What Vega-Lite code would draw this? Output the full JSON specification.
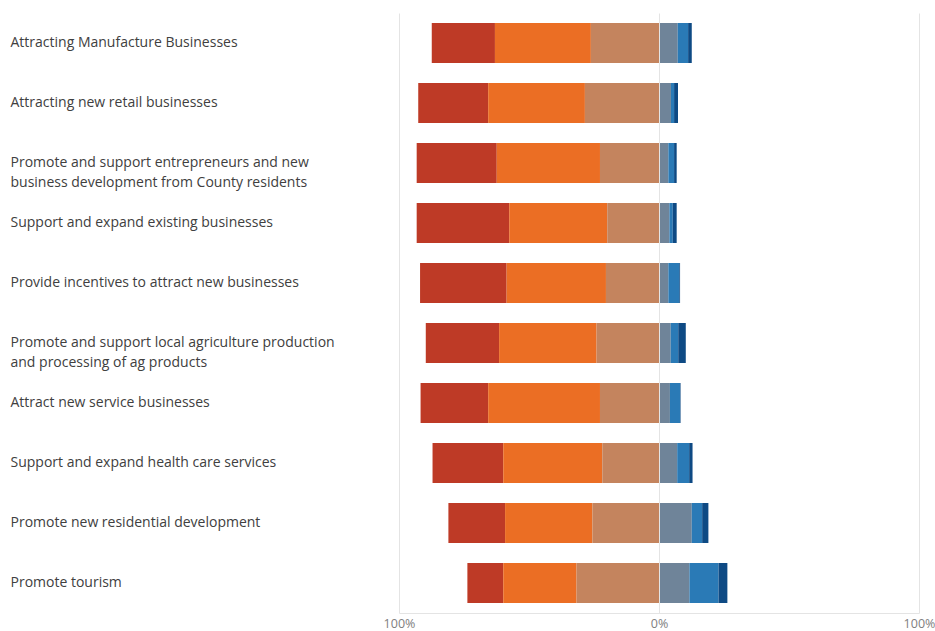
{
  "$schema": "https://vega.github.io/schema/vega-lite/v6.json",
  "width": 520,
  "height": 600,
  "autosize": {"type": "none"},
  "padding": {"left": 399, "top": 13, "right": 16, "bottom": 18},
  "background": "white",
  "config": {"view": {"stroke": null}, "font": "Open Sans"},
  "data": {"values": [
    {"item": "Attracting Manufacture Businesses", "response": "Very high", "pct": -24.3},
    {"item": "Attracting Manufacture Businesses", "response": "High", "pct": -36.9},
    {"item": "Attracting Manufacture Businesses", "response": "Medium", "pct": -26.2},
    {"item": "Attracting Manufacture Businesses", "response": "Low", "pct": 7.2},
    {"item": "Attracting Manufacture Businesses", "response": "Very low", "pct": 4.0},
    {"item": "Attracting Manufacture Businesses", "response": "Not a priority", "pct": 1.4},
    {"item": "Attracting new retail businesses", "response": "Very high", "pct": -26.9},
    {"item": "Attracting new retail businesses", "response": "High", "pct": -37.2},
    {"item": "Attracting new retail businesses", "response": "Medium", "pct": -28.5},
    {"item": "Attracting new retail businesses", "response": "Low", "pct": 4.6},
    {"item": "Attracting new retail businesses", "response": "Very low", "pct": 1.2},
    {"item": "Attracting new retail businesses", "response": "Not a priority", "pct": 1.5},
    {"item": "Promote and support entrepreneurs and new business development from County residents", "response": "Very high", "pct": -30.8},
    {"item": "Promote and support entrepreneurs and new business development from County residents", "response": "High", "pct": -39.7},
    {"item": "Promote and support entrepreneurs and new business development from County residents", "response": "Medium", "pct": -22.7},
    {"item": "Promote and support entrepreneurs and new business development from County residents", "response": "Low", "pct": 3.6},
    {"item": "Promote and support entrepreneurs and new business development from County residents", "response": "Very low", "pct": 2.2},
    {"item": "Promote and support entrepreneurs and new business development from County residents", "response": "Not a priority", "pct": 1.0},
    {"item": "Support and expand existing businesses", "response": "Very high", "pct": -35.6},
    {"item": "Support and expand existing businesses", "response": "High", "pct": -37.7},
    {"item": "Support and expand existing businesses", "response": "Medium", "pct": -19.9},
    {"item": "Support and expand existing businesses", "response": "Low", "pct": 4.0},
    {"item": "Support and expand existing businesses", "response": "Very low", "pct": 1.3},
    {"item": "Support and expand existing businesses", "response": "Not a priority", "pct": 1.5},
    {"item": "Provide incentives to attract new businesses", "response": "Very high", "pct": -33.3},
    {"item": "Provide incentives to attract new businesses", "response": "High", "pct": -38.2},
    {"item": "Provide incentives to attract new businesses", "response": "Medium", "pct": -20.4},
    {"item": "Provide incentives to attract new businesses", "response": "Low", "pct": 3.6},
    {"item": "Provide incentives to attract new businesses", "response": "Very low", "pct": 4.2},
    {"item": "Provide incentives to attract new businesses", "response": "Not a priority", "pct": 0.3},
    {"item": "Promote and support local agriculture production and processing of ag products", "response": "Very high", "pct": -28.2},
    {"item": "Promote and support local agriculture production and processing of ag products", "response": "High", "pct": -37.5},
    {"item": "Promote and support local agriculture production and processing of ag products", "response": "Medium", "pct": -24.0},
    {"item": "Promote and support local agriculture production and processing of ag products", "response": "Low", "pct": 4.5},
    {"item": "Promote and support local agriculture production and processing of ag products", "response": "Very low", "pct": 2.9},
    {"item": "Promote and support local agriculture production and processing of ag products", "response": "Not a priority", "pct": 2.9},
    {"item": "Attract new service businesses", "response": "Very high", "pct": -26.0},
    {"item": "Attract new service businesses", "response": "High", "pct": -43.0},
    {"item": "Attract new service businesses", "response": "Medium", "pct": -22.7},
    {"item": "Attract new service businesses", "response": "Low", "pct": 4.2},
    {"item": "Attract new service businesses", "response": "Very low", "pct": 3.9},
    {"item": "Attract new service businesses", "response": "Not a priority", "pct": 0.2},
    {"item": "Support and expand health care services", "response": "Very high", "pct": -27.2},
    {"item": "Support and expand health care services", "response": "High", "pct": -38.1},
    {"item": "Support and expand health care services", "response": "Medium", "pct": -21.8},
    {"item": "Support and expand health care services", "response": "Low", "pct": 7.0},
    {"item": "Support and expand health care services", "response": "Very low", "pct": 4.6},
    {"item": "Support and expand health care services", "response": "Not a priority", "pct": 1.3},
    {"item": "Promote new residential development", "response": "Very high", "pct": -21.8},
    {"item": "Promote new residential development", "response": "High", "pct": -33.6},
    {"item": "Promote new residential development", "response": "Medium", "pct": -25.6},
    {"item": "Promote new residential development", "response": "Low", "pct": 12.6},
    {"item": "Promote new residential development", "response": "Very low", "pct": 4.0},
    {"item": "Promote new residential development", "response": "Not a priority", "pct": 2.4},
    {"item": "Promote tourism", "response": "Very high", "pct": -13.8},
    {"item": "Promote tourism", "response": "High", "pct": -28.2},
    {"item": "Promote tourism", "response": "Medium", "pct": -31.7},
    {"item": "Promote tourism", "response": "Low", "pct": 11.7},
    {"item": "Promote tourism", "response": "Very low", "pct": 11.2},
    {"item": "Promote tourism", "response": "Not a priority", "pct": 3.4}
  ]},
  "transform": [
    {"calculate": "indexof(['Medium','High','Very high','Low','Very low','Not a priority'], datum.response)", "as": "ord"}
  ],
  "mark": {"type": "bar"},
  "encoding": {
    "y": {
      "field": "item",
      "type": "nominal",
      "sort": null,
      "scale": {"paddingInner": 0.333, "paddingOuter": 0.1667},
      "axis": {
        "title": null,
        "ticks": false,
        "domain": false,
        "grid": false,
        "labelAlign": "left",
        "labelPadding": 389,
        "labelFontSize": 14,
        "labelColor": "#404040",
        "labelLimit": 400,
        "labelLineHeight": 20,
        "labelExpr": "datum.label == 'Promote and support entrepreneurs and new business development from County residents' ? ['Promote and support entrepreneurs and new', 'business development from County residents'] : datum.label == 'Promote and support local agriculture production and processing of ag products' ? ['Promote and support local agriculture production', 'and processing of ag products'] : datum.label"
      }
    },
    "x": {
      "field": "pct",
      "type": "quantitative",
      "stack": "zero",
      "scale": {"domain": [-100, 100]},
      "axis": {
        "title": null,
        "values": [-100, 0, 100],
        "labelExpr": "abs(datum.value) + '%'",
        "labelFlush": false,
        "ticks": false,
        "grid": true,
        "gridColor": "#e4e4e4",
        "domain": true,
        "domainColor": "#e4e4e4",
        "labelColor": "#808080",
        "labelFontSize": 12.5,
        "labelPadding": 4,
        "zindex": 1
      }
    },
    "color": {
      "field": "response",
      "type": "nominal",
      "scale": {
        "domain": ["Very high", "High", "Medium", "Low", "Very low", "Not a priority"],
        "range": ["#BE3A26", "#EB6E24", "#C4845E", "#6F8499", "#2A7AB6", "#0E4A84"]
      },
      "legend": null
    },
    "order": {"field": "ord", "type": "quantitative"}
  }
}
